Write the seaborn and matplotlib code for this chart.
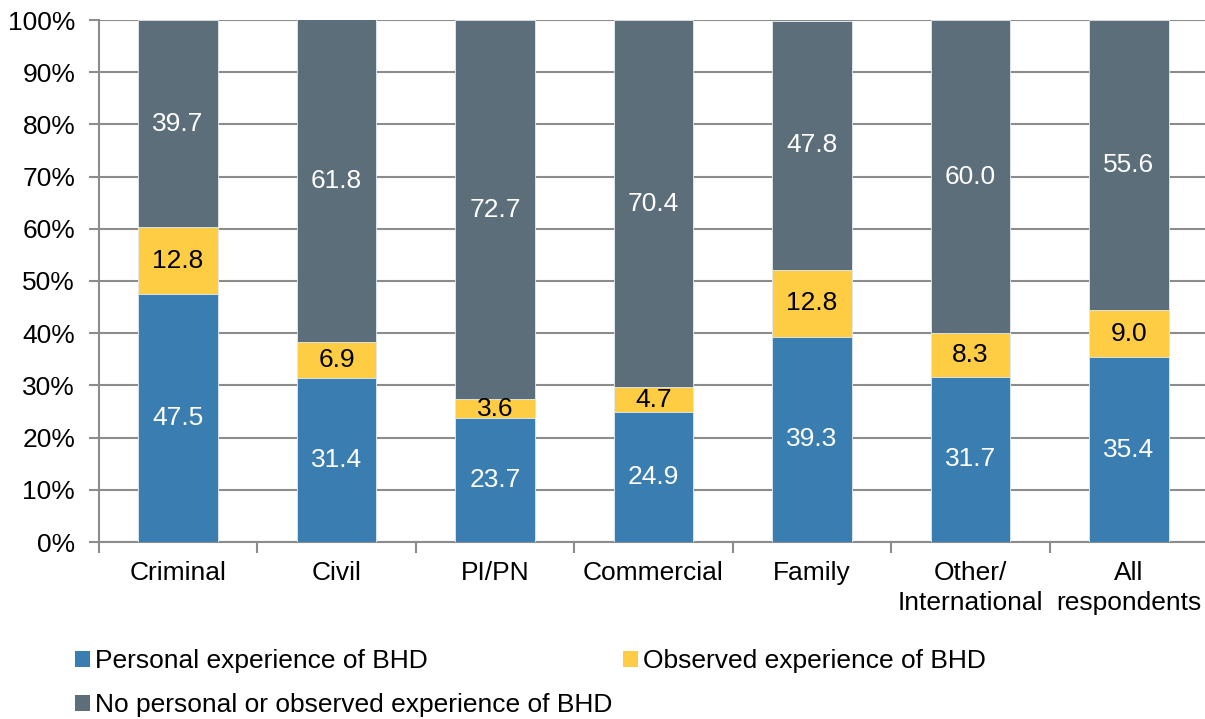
import matplotlib
matplotlib.use("Agg")
import matplotlib.pyplot as plt
import seaborn as sns
import pandas as pd
import numpy as np
from matplotlib.patches import Patch
from matplotlib.ticker import FixedLocator, PercentFormatter

categories = ["Criminal", "Civil", "PI/PN", "Commercial", "Family",
              "Other/\nInternational", "All\nrespondents"]
personal = [47.5, 31.4, 23.7, 24.9, 39.3, 31.7, 35.4]
observed = [12.8, 6.9, 3.6, 4.7, 12.8, 8.3, 9.0]
no_experience = [39.7, 61.8, 72.7, 70.4, 47.8, 60.0, 55.6]

series_names = ["Personal experience of BHD",
                "Observed experience of BHD",
                "No personal or observed experience of BHD"]
colors = ["#3a7db0", "#ffcd44", "#5b6e7a"]

sns.set_theme(style="white")
plt.rcParams["font.family"] = ["Liberation Sans", "DejaVu Sans"]
plt.rcParams["text.color"] = "black"
plt.rcParams["xtick.labelcolor"] = "black"
plt.rcParams["ytick.labelcolor"] = "black"

df = pd.DataFrame({
    "category": categories,
    "personal": personal,
    "observed": observed,
    "none": no_experience,
})
df["cum_obs"] = df["personal"] + df["observed"]
df["cum_all"] = df["cum_obs"] + df["none"]

fig = plt.figure(figsize=(12.05, 7.19), dpi=100)
ax = fig.add_axes([98.75 / 1205, 1 - 542 / 719, 1109.5 / 1205, 522 / 719])

grid_c = "#8c8c8c"
fs = 19

# stacked bars drawn as overlapping cumulative totals
for col, c in zip(["cum_all", "cum_obs", "personal"], colors[::-1]):
    sns.barplot(data=df, x="category", y=col, color=c, width=0.5,
                saturation=1, ax=ax, edgecolor="#e4ecf2", linewidth=0.6,
                zorder=3)

ax.set_ylim(0, 100)
ax.set_xlim(-0.5, len(categories) - 0.5)
ax.yaxis.set_major_locator(FixedLocator(np.arange(0, 101, 10)))
ax.yaxis.set_major_formatter(PercentFormatter(decimals=0))
ax.yaxis.grid(True, color=grid_c, linewidth=1.5, zorder=0)
ax.set_axisbelow(True)
ax.set_xlabel("")
ax.set_ylabel("")

for s in ["top", "right"]:
    ax.spines[s].set_visible(False)
for s in ["left", "bottom"]:
    ax.spines[s].set_color(grid_c)
    ax.spines[s].set_linewidth(1.5)

ax.tick_params(axis="y", which="major", length=7, width=1.5, color=grid_c,
               direction="out", labelsize=fs, pad=10, left=True,
               labelcolor="black")
ax.tick_params(axis="x", which="major", length=0, labelsize=fs, pad=14,
               labelcolor="black")
ax.set_xticks(range(len(categories)))
ax.set_xticklabels(categories, linespacing=1.3)
ax.xaxis.set_minor_locator(FixedLocator(np.arange(-0.5, len(categories), 1.0)))
ax.tick_params(axis="x", which="minor", length=8, width=1.5, color=grid_c,
               direction="out", bottom=True)

# value labels centred in each segment
for i in range(len(categories)):
    p, o, n = personal[i], observed[i], no_experience[i]
    ax.text(i, p / 2, f"{p:.1f}", ha="center", va="center", color="white",
            fontsize=fs, zorder=5)
    ax.text(i, p + o / 2, f"{o:.1f}", ha="center", va="center", color="black",
            fontsize=fs, zorder=5)
    ax.text(i, p + o + n / 2, f"{n:.1f}", ha="center", va="center",
            color="white", fontsize=fs, zorder=5)

handles = [Patch(facecolor=c, edgecolor="none") for c in colors]
order = [0, 2, 1]
fig.legend([handles[k] for k in order], [series_names[k] for k in order],
           loc="upper left", bbox_to_anchor=(57 / 1205, 1 - 631 / 719),
           ncol=2, frameon=False, fontsize=fs, handlelength=0.55,
           handleheight=0.55, handletextpad=0.2, columnspacing=0.4,
           labelspacing=0.75, borderpad=0.2, labelcolor="black")

fig.savefig("out.png", dpi=100)
